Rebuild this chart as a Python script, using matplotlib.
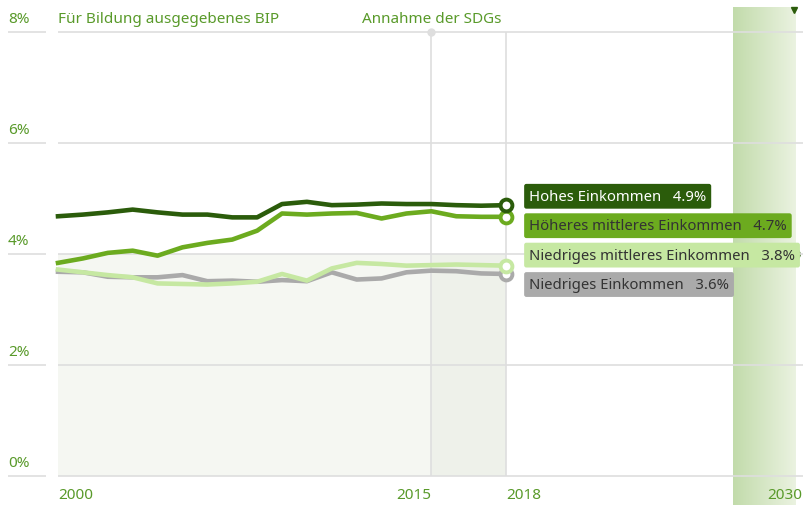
import numpy as np
import matplotlib
matplotlib.use("Agg")
import matplotlib.pyplot as plt

plt.rcParams['font.family'] = ['Noto Sans', 'DejaVu Sans']

# Data
years = list(range(2000, 2019))
hohes = [4.68, 4.71, 4.75, 4.80, 4.75, 4.71, 4.71, 4.66, 4.66, 4.90, 4.94, 4.88,
         4.89, 4.91, 4.90, 4.90, 4.88, 4.87, 4.88]
hoeheres = [3.84, 3.92, 4.02, 4.06, 3.97, 4.12, 4.20, 4.26, 4.42, 4.73, 4.71, 4.73,
            4.74, 4.64, 4.73, 4.77, 4.68, 4.67, 4.67]
niedr_mittl = [3.72, 3.67, 3.62, 3.58, 3.47, 3.46, 3.45, 3.47, 3.50, 3.64, 3.52, 3.74,
               3.84, 3.82, 3.79, 3.80, 3.81, 3.80, 3.79]
niedriges = [3.68, 3.67, 3.59, 3.58, 3.58, 3.62, 3.51, 3.52, 3.50, 3.53, 3.51, 3.67,
             3.54, 3.56, 3.67, 3.70, 3.69, 3.65, 3.64]

series = [
    ("Hohes Einkommen", hohes, "#2b5c0b", "white"),
    ("Höheres mittleres Einkommen", hoeheres, "#6cab1f", "#333333"),
    ("Niedriges mittleres Einkommen", niedr_mittl, "#c6e8a2", "#333333"),
    ("Niedriges Einkommen", niedriges, "#aaaaaa", "#333333"),
]
y_ticks = [0, 2, 4, 6, 8]
x_labels = [(2000, "left"), (2015, "right"), (2018, "left"), (2030, "right")]
sdg_year = 2015
last_year = 2018
target_band = (2027.12, 2029.62)

txt_green = "#599a2a"
grid_c = "#dedede"
fs = 11

fig = plt.figure(figsize=(8.04, 5.06), dpi=100)
ax = fig.add_axes([0, 0, 1, 1])
ax.axis('off')
xmin, xmax = 1997.67, 2029.97
ymin, ymax = -0.5225, 8.5946

# target band with gradient
grad = np.linspace(0, 1, 100).reshape(1, -1)
c0 = np.array([0.76, 0.86, 0.67])
c1 = np.array([0.92, 0.95, 0.88])
img = c0[None, None, :] * (1 - grad[..., None]) + c1[None, None, :] * grad[..., None]
ax.imshow(img, extent=[target_band[0], target_band[1], ymin, 8.45],
          aspect='auto', zorder=0)
ax.plot([target_band[1] - 0.05], [8.40], marker='v', color="#2b5c0b", ms=5, zorder=1)
ax.plot([target_band[1] - 0.05], [4.0], marker='o', color="#2b5c0b", ms=8, zorder=1)

# shaded area up to 4%
ax.fill_between([2000, last_year], 0, 4, color="#f5f7f2", lw=0, zorder=0.5)
ax.fill_between([sdg_year, last_year], 0, 4, color="#eef1ea", lw=0, zorder=0.6)

# grid
for t in y_ticks:
    ax.hlines(t, 2000, xmax, color=grid_c, lw=1.2, zorder=1)
    ax.hlines(t, 1997.99, 1999.52, color=grid_c, lw=1.2, zorder=1)
    ax.annotate(f"{t}%", (1997.99, t), xytext=(0, 6), textcoords='offset pixels',
                ha='left', va='bottom', color=txt_green, fontsize=fs)
for yr in [sdg_year, last_year]:
    ax.vlines(yr, 0, 8, color=grid_c, lw=1.2, zorder=1)
ax.plot([sdg_year], [8], 'o', color=grid_c, ms=5, zorder=1)

ax.annotate("Für Bildung ausgegebenes BIP", (2000, 8), xytext=(0, 6),
            textcoords='offset pixels', ha='left', va='bottom', color=txt_green, fontsize=fs)
ax.annotate("Annahme der SDGs", (sdg_year, 8), xytext=(0, 6),
            textcoords='offset pixels', ha='center', va='bottom', color=txt_green, fontsize=fs)

for yr, ha in x_labels:
    ax.annotate(str(yr), (yr if yr != 2030 else xmax - 0.08, 0), xytext=(0, -18),
                textcoords='offset pixels', ha=ha, va='center', color=txt_green, fontsize=fs)

# lines
for name, vals, col, _ in series[::-1]:
    ax.plot(years, vals, color=col, lw=3.3, solid_joinstyle='round', zorder=3)
    ax.plot([years[-1]], [vals[-1]], 'o', ms=8.5, mfc='white', mec=col, mew=2.8, zorder=4)

# label positions: dodge pairs
ends = [s[1][-1] for s in series]
gap = 0.53
lab_y = list(ends)
for i in range(0, len(ends), 2):
    m = (ends[i] + ends[i + 1]) / 2
    lab_y[i] = m + gap / 2
    lab_y[i + 1] = m - gap / 2

for (name, vals, col, tc), ly in zip(series, lab_y):
    ax.annotate(f"{name}   {vals[-1]:.1f}%", (last_year, ly), xytext=(23, 0),
                textcoords='offset pixels', ha='left', va='center', color=tc,
                fontsize=10.7, zorder=6,
                bbox=dict(boxstyle='round,pad=0.33,rounding_size=0.15', fc=col, ec='none'))

ax.set_xlim(xmin, xmax)
ax.set_ylim(ymin, ymax)
fig.savefig("out.png", dpi=100)
